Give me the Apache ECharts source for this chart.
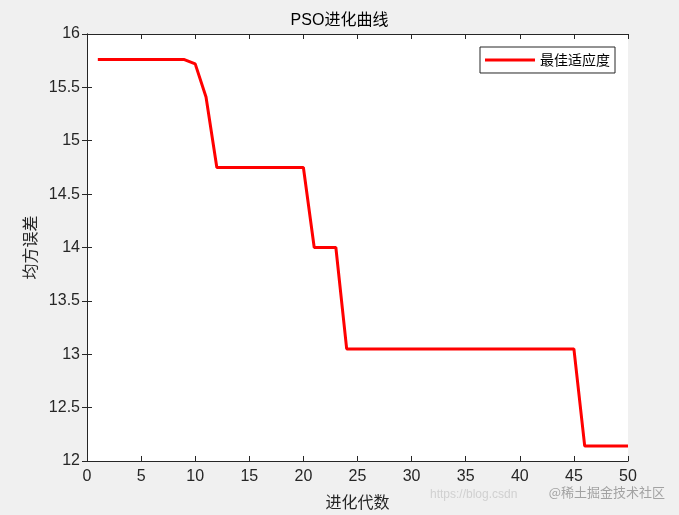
<!DOCTYPE html>
<html>
<head>
<meta charset="utf-8">
<script src="https://cdn.jsdelivr.net/npm/echarts@6/dist/echarts.min.js"></script>
<style>
  html, body { margin: 0; padding: 0; background: #f0f0f0; }
  #chart { width: 679px; height: 515px; }
</style>
</head>
<body>
<div id="chart"></div>
<script>
  // 迭代代数与最佳适应度
  const generations = [1,2,3,4,5,6,7,8,9,10,11,12,13,14,15,16,17,18,19,20,21,22,23,24,25,
    26,27,28,29,30,31,32,33,34,35,36,37,38,39,40,41,42,43,44,45,46,47,48,49,50];
  const bestFitness = [15.76,15.76,15.76,15.76,15.76,15.76,15.76,15.76,15.76,15.72,15.41,14.75,
    14.75,14.75,14.75,14.75,14.75,14.75,14.75,14.75,14.0,14.0,14.0,13.05,13.05,13.05,13.05,13.05,
    13.05,13.05,13.05,13.05,13.05,13.05,13.05,13.05,13.05,13.05,13.05,13.05,13.05,13.05,13.05,
    13.05,13.05,12.14,12.14,12.14,12.14,12.14];
  const seriesName = '最佳适应度';

  const tickFont = { color: '#262626', fontSize: 16, fontFamily: 'Liberation Sans, Arial, sans-serif' };
  const axisLine = { show: true, lineStyle: { color: '#262626', width: 1 } };
  const tickIn = { show: true, inside: true, length: 5, lineStyle: { color: '#262626' } };

  const myChart = echarts.init(document.getElementById('chart'));
  myChart.setOption({
    backgroundColor: '#f0f0f0',
    animation: false,
    title: {
      text: 'PSO进化曲线',
      left: 'center',
      top: 8,
      textStyle: { fontSize: 16, fontWeight: 'normal', color: '#000', fontFamily: 'Liberation Sans, Noto Sans CJK SC, sans-serif' }
    },
    legend: {
      data: [seriesName],
      icon: 'rect',
      right: 64,
      top: 47,
      backgroundColor: '#fff',
      borderColor: '#262626',
      borderWidth: 1,
      borderRadius: 0,
      padding: [6, 5, 6, 5],
      itemWidth: 50,
      itemHeight: 3,
      itemGap: 5,
      textStyle: { fontSize: 14, color: '#000', fontFamily: 'Noto Sans CJK SC' }
    },
    grid: { left: 87, right: 51, top: 34, bottom: 53, backgroundColor: '#fff', show: true, borderWidth: 0 },
    xAxis: [
      {
        type: 'value', min: 0, max: 50, interval: 5,
        name: '进化代数', nameLocation: 'middle', nameGap: 33,
        nameTextStyle: { fontSize: 16, color: '#262626', fontFamily: 'Noto Sans CJK SC' },
        axisLine: axisLine, axisTick: tickIn, splitLine: { show: false },
        axisLabel: Object.assign({ margin: 8 }, tickFont)
      },
      {
        type: 'value', min: 0, max: 50, interval: 5, position: 'top',
        axisLine: axisLine, axisTick: tickIn, splitLine: { show: false }, axisLabel: { show: false }
      }
    ],
    yAxis: [
      {
        type: 'value', min: 12, max: 16, interval: 0.5,
        name: '均方误差', nameLocation: 'middle', nameGap: 47,
        nameTextStyle: { fontSize: 16, color: '#262626', fontFamily: 'Noto Sans CJK SC' },
        axisLine: axisLine, axisTick: tickIn, splitLine: { show: false },
        axisLabel: Object.assign({ margin: 7 }, tickFont)
      },
      {
        type: 'value', min: 12, max: 16, interval: 0.5, position: 'right',
        axisLine: axisLine, axisTick: tickIn, splitLine: { show: false }, axisLabel: { show: false }
      }
    ],
    series: [
      {
        name: seriesName,
        type: 'line',
        data: generations.map((g, i) => [g, bestFitness[i]]),
        symbol: 'none',
        lineStyle: { color: '#ff0000', width: 3 },
        itemStyle: { color: '#ff0000' }
      }
    ],
    graphic: [
      {
        type: 'text', right: 14, bottom: 16,
        style: { text: '@稀土掘金技术社区', fontSize: 13, fill: 'rgba(110,110,110,0.6)', fontFamily: 'Noto Sans CJK SC' }
      },
      {
        type: 'text', left: 430, bottom: 14,
        style: { text: 'https://blog.csdn', fontSize: 12, fill: 'rgba(150,150,150,0.35)', fontFamily: 'Liberation Sans' }
      }
    ]
  });
  window.addEventListener('resize', () => { myChart.resize() });
</script>
</body>
</html>
